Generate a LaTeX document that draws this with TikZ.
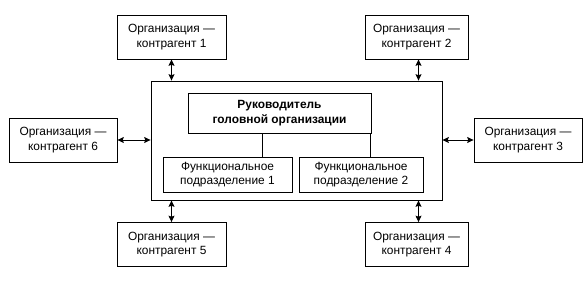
\documentclass[tikz,border=0pt]{standalone}
\usepackage{fontspec}
\setmainfont{Liberation Sans}
\usetikzlibrary{positioning,arrows.meta,calc}

\begin{document}
\begin{tikzpicture}[x=1pt,y=-1pt,>={Stealth[length=6.5pt,width=6pt,inset=1.2pt]},
   every node/.style={font=\fontsize{11.9}{14.5}\selectfont,align=center,
     inner sep=0pt,line width=0.8pt},
   orgbox/.style={draw,minimum height=44pt},
   unitbox/.style={draw,minimum height=35pt},
   link/.style={<->,line width=0.9pt}]
  \useasboundingbox (0,0) rectangle (588,286);
  % main organisation
  \node (main) [draw,minimum width=291pt,minimum height=119pt] at (296.5,140.5) {};
  \node (head) [draw,minimum width=183pt,minimum height=40pt] at (279.5,113)
    {\bfseries Руководитель\\ \bfseries головной организации};
  \node (func1) [unitbox,minimum width=129pt] at (227.5,174.5)
    {Функциональное\\подразделение 1};
  \node (func2) [unitbox,minimum width=124pt] at (361,174.5)
    {Функциональное\\подразделение 2};
  % counterparts
  \node (org1) [orgbox,minimum width=109pt] at (171.5,37) {Организация —\\контрагент 1};
  \node (org2) [orgbox,minimum width=103pt] at (416.5,37) {Организация —\\контрагент 2};
  \node (org3) [orgbox,minimum width=108pt] at (528,140) {Организация —\\контрагент 3};
  \node (org4) [orgbox,minimum width=103pt] at (416.5,244.5) {Организация —\\контрагент 4};
  \node (org5) [orgbox,minimum width=109pt] at (171.5,244.5) {Организация —\\контрагент 5};
  \node (org6) [orgbox,minimum width=108pt] at (63,140) {Организация —\\контрагент 6};
  % links
  \draw[line width=0.8pt] ([xshift=-17.5pt]head.south) -- ([xshift=-17.5pt]head.south |- func1.north);
  \draw[line width=0.8pt] ([xshift=-1pt]head.south east) -- ([xshift=-1pt]head.south east |- func2.north);
  \draw[link] (org1.south) -- (org1.south |- main.north);
  \draw[link] ([xshift=2pt]org2.south) -- ([xshift=2pt]org2.south |- main.north);
  \draw[link] (org3.west) -- (org3.west -| main.east);
  \draw[link] ([xshift=2pt]org4.north) -- ([xshift=2pt]org4.north |- main.south);
  \draw[link] (org5.north) -- (org5.north |- main.south);
  \draw[link] (org6.east) -- (org6.east -| main.west);
\end{tikzpicture}
\end{document}
